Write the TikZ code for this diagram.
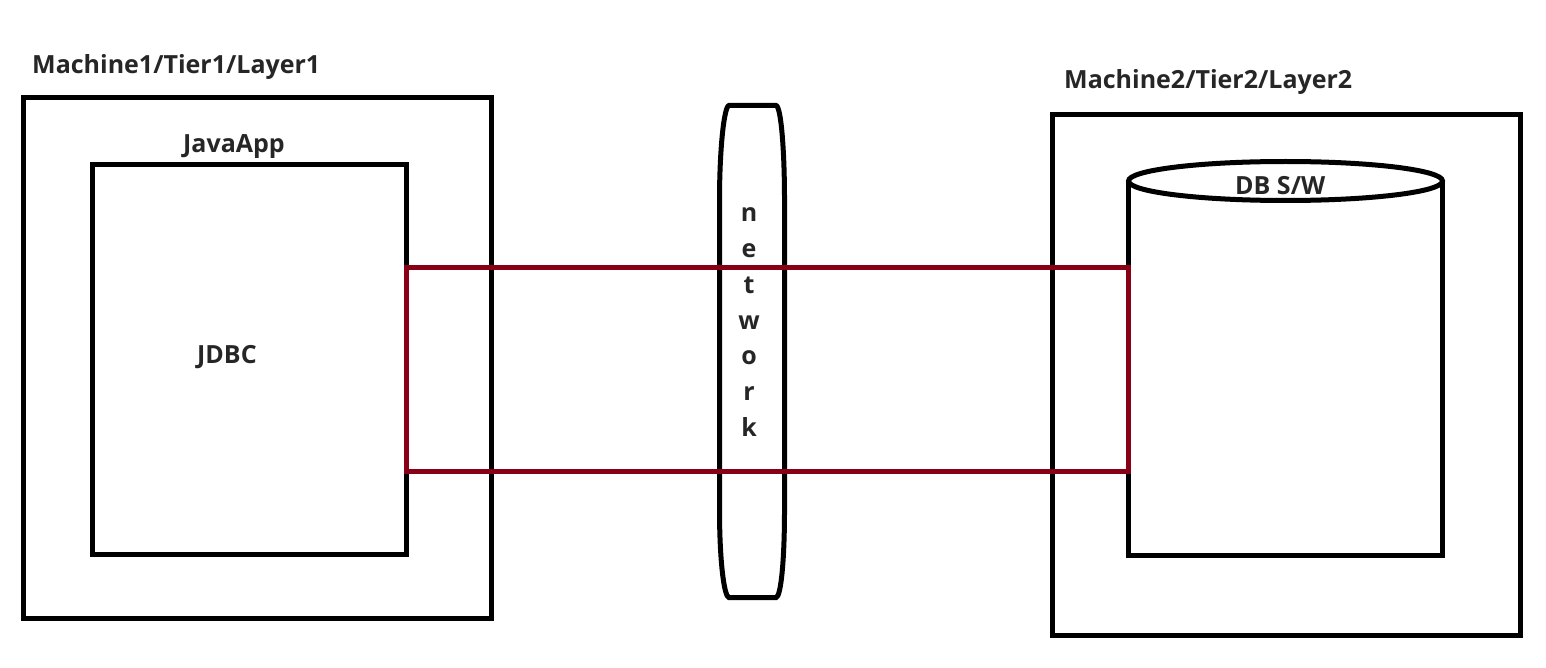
\documentclass[tikz,border=0pt]{standalone}
\usepackage{fontspec}
\setmainfont{Open Sans}
\usepackage{xcolor}
\definecolor{linkred}{RGB}{136,0,21}

\begin{document}
\begin{tikzpicture}[x=1pt,y=-1pt,
  box/.style={draw=black,line width=5pt,outer sep=0pt,inner sep=0pt},
  lbl/.style={font=\fontsize{25}{30}\selectfont\bfseries,text=black!85,inner sep=0pt},
  link/.style={draw=linkred,line width=5pt}]
\useasboundingbox (0,0) rectangle (1546,668);
\node[box,minimum width=468pt,minimum height=521pt] (machineA) at (257.5,358) {};
\node[box,minimum width=314pt,minimum height=390pt] (javaApp) at (249.5,359.5) {};
\node[lbl,anchor=base west] (machineAText) at (32,74) {Machine1/Tier1/Layer1};
\node[lbl,anchor=base west] (javaAppText) at (183,153) {JavaApp};
\node[lbl,anchor=base west] (jdbcText) at (197,363) {JDBC};
\node[box,minimum width=468pt,minimum height=521pt] (machineB) at (1286.5,375) {};
\node[lbl,anchor=base west] (machineBText) at (1064,89) {Machine2/Tier2/Layer2};
\node[inner sep=0pt,outer sep=0pt,minimum width=314pt,minimum height=374.5pt] (dbBody) at (1285.5,368.25) {};
\draw[line width=5pt] (dbBody.north west) -- (dbBody.south west) -- (dbBody.south east) -- (dbBody.north east);
\draw[line width=5pt] (dbBody.north) ellipse[x radius=157,y radius=19.5];
\node[lbl,anchor=base west] (dbText) at (1235,195) {DB S/W};
\draw[line width=5pt] (729,105.5) -- (776,105.5) .. controls (781,106) and (784.5,150) .. (784.5,200)
  -- (784.5,510) .. controls (784.5,560) and (781,597) .. (776,597.5) -- (729,597.5)
  .. controls (724,597) and (719.5,560) .. (719.5,510) -- (719.5,200)
  .. controls (719.5,150) and (724,106) .. (729,105.5) -- cycle;
\foreach \ch [count=\i from 0] in {n,e,t,w,o,r,k}
  \node[lbl,anchor=base] (net\i) at (749,221.7+35.8*\i) {\ch};
\coordinate (linkTop) at (0,267.5);
\coordinate (linkBot) at (0,471.5);
\draw[link] (javaApp.east |- linkTop) rectangle (dbBody.west |- linkBot);
\end{tikzpicture}
\end{document}
